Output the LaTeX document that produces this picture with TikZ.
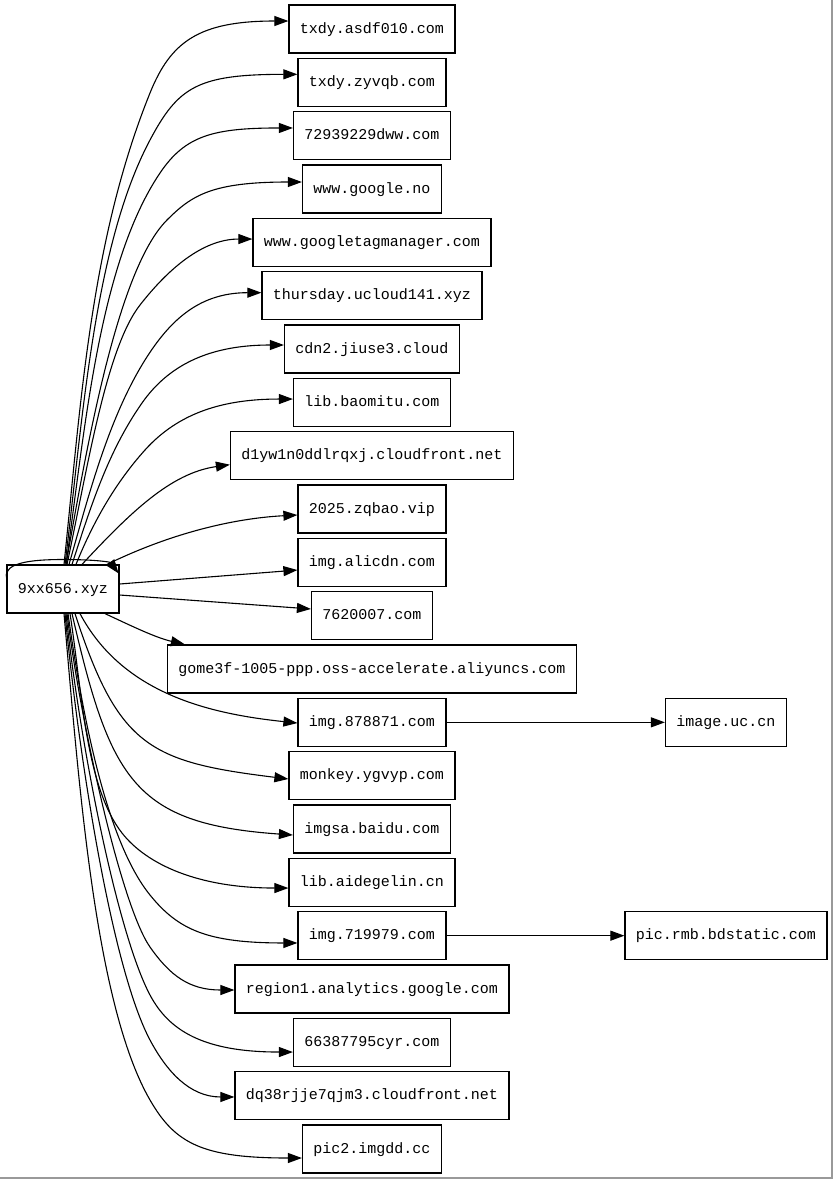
\documentclass[tikz,border=0pt]{standalone}
\usepackage{fontspec}
\newfontfamily\gvfont{Liberation Mono}
\usetikzlibrary{arrows.meta,calc}
\tikzset{
  gvbox/.style={draw, line width=1.2pt, minimum height=48pt, inner xsep=11pt, inner ysep=0pt,
    text height=12pt, text depth=3.4pt, font=\gvfont\fontsize{15}{18}\selectfont},
  conn/.style={draw, line width=1.1pt, -{Triangle[length=14pt,width=10pt]}},
}
% two-piece spline: start, start angle, start length, knee, knee angle, back length, fwd length, end, end length
\newcommand\gvup[9]{\draw[conn] (#1) .. controls +(#2:#3) and +(#5+180:#6) .. (#4) .. controls +(#5:#7) and +(-#9,0) .. (#8);}
\begin{document}
\begin{tikzpicture}[x=1pt,y=-1pt]
\useasboundingbox (0,0) rectangle (833,1179);
\fill[white] (0,0) rectangle (833,1179);
\draw[black!40, line width=1.5pt] (832.2,0) -- (832.2,1178.2) -- (0,1178.2);

\node[gvbox] (src) at (63,589) {9xx656.xyz};
\node[gvbox] (t1) at (372,29) {txdy.asdf010.com};
\node[gvbox] (t2) at (372,82.33) {txdy.zyvqb.com};
\node[gvbox] (t3) at (372,135.67) {72939229dww.com};
\node[gvbox] (t4) at (372,189) {www.google.no};
\node[gvbox] (t5) at (372,242.33) {www.googletagmanager.com};
\node[gvbox] (t6) at (372,295.67) {thursday.ucloud141.xyz};
\node[gvbox] (t7) at (372,349) {cdn2.jiuse3.cloud};
\node[gvbox] (t8) at (372,402.33) {lib.baomitu.com};
\node[gvbox] (t9) at (372,455.67) {d1yw1n0ddlrqxj.cloudfront.net};
\node[gvbox] (t10) at (372,509) {2025.zqbao.vip};
\node[gvbox] (t11) at (372,562.33) {img.alicdn.com};
\node[gvbox] (t12) at (372,615.67) {7620007.com};
\node[gvbox] (t13) at (372,669) {gome3f-1005-ppp.oss-accelerate.aliyuncs.com};
\node[gvbox] (t14) at (372,722.33) {img.878871.com};
\node[gvbox] (t15) at (372,775.67) {monkey.ygvyp.com};
\node[gvbox] (t16) at (372,829) {imgsa.baidu.com};
\node[gvbox] (t17) at (372,882.33) {lib.aidegelin.cn};
\node[gvbox] (t18) at (372,935.67) {img.719979.com};
\node[gvbox] (t19) at (372,989) {region1.analytics.google.com};
\node[gvbox] (t20) at (372,1042.33) {66387795cyr.com};
\node[gvbox] (t21) at (372,1095.67) {dq38rjje7qjm3.cloudfront.net};
\node[gvbox] (t22) at (372,1149) {pic2.imgdd.cc};
\node[gvbox] (r1) at (726,722.33) {image.uc.cn};
\node[gvbox] (r2) at (726,935.67) {pic.rmb.bdstatic.com};

% start points
\coordinate (s1) at ($(src.north)+(1,0)$);
\coordinate (s2) at ($(src.north)+(2,0)$);
\coordinate (s3) at ($(src.north)+(3,0)$);
\coordinate (s4) at ($(src.north)+(3,0)$);
\coordinate (s5) at ($(src.north)+(4,0)$);
\coordinate (s6) at ($(src.north)+(6,0)$);
\coordinate (s7) at ($(src.north)+(9,0)$);
\coordinate (s8) at ($(src.north)+(13,0)$);
\coordinate (s9) at ($(src.north)+(19,0)$);
\coordinate (s10) at ($(src.north)+(44,0)$);
\coordinate (s13) at ($(src.south)+(42,0)$);
\coordinate (s14) at ($(src.south)+(17,0)$);
\coordinate (s15) at ($(src.south)+(12,0)$);
\coordinate (s16) at ($(src.south)+(9,0)$);
\coordinate (s17) at ($(src.south)+(7,0)$);
\coordinate (s18) at ($(src.south)+(5,0)$);
\coordinate (s19) at ($(src.south)+(4,0)$);
\coordinate (s20) at ($(src.south)+(3,0)$);
\coordinate (s21) at ($(src.south)+(2,0)$);
\coordinate (s22) at ($(src.south)+(1,0)$);
% end points
\coordinate (e1) at ($(t1.west)+(0,-8)$);
\coordinate (e2) at ($(t2.west)+(0,-8)$);
\coordinate (e3) at ($(t3.west)+(0,-7.7)$);
\coordinate (e4) at ($(t4.west)+(0,-7)$);
\coordinate (e5) at ($(t5.west)+(0,-3.3)$);
\coordinate (e6) at ($(t6.west)+(0,-3)$);
\coordinate (e7) at ($(t7.west)+(0,-4)$);
\coordinate (e8) at ($(t8.west)+(0,-3.3)$);
\coordinate (e9) at ($(t9.west)+(0,9)$);
\coordinate (e10) at ($(t10.west)+(0,6)$);
\coordinate (e13) at ($(t13.north west)+(18,0)$);
\coordinate (e14) at ($(t14.west)+(0,0.7)$);
\coordinate (e15) at ($(t15.west)+(0,3.3)$);
\coordinate (e16) at ($(t16.west)+(0,6)$);
\coordinate (e17) at ($(t17.west)+(0,5.7)$);
\coordinate (e18) at ($(t18.west)+(0,7.3)$);
\coordinate (e19) at ($(t19.west)+(0,1)$);
\coordinate (e20) at ($(t20.west)+(0,9.7)$);
\coordinate (e21) at ($(t21.west)+(0,1.3)$);
\coordinate (e22) at ($(t22.west)+(0,9)$);
% self loop ends
\coordinate (l1) at ($(src.north west)+(0,13)$);
\coordinate (l2) at ($(src.north east)+(-1,9)$);

% upper edges
\gvup{s1}{-84}{160}{150,93}{-68}{160}{55}{e1}{90}
\gvup{s2}{-83}{145}{150,140}{-62}{120}{60}{e2}{100}
\gvup{s3}{-82}{135}{160,173}{-56}{110}{45}{e3}{80}
\gvup{s4}{-80}{120}{167,220}{-45}{70}{35}{e4}{90}
\gvup{s5}{-78}{100}{140,305}{-52}{55}{45}{e5}{50}
\gvup{s6}{-74}{70}{145,360}{-58}{70}{50}{e6}{60}
\gvup{s7}{-72}{60}{142,403}{-55}{60}{50}{e7}{70}
\gvup{s8}{-68}{45}{145,450}{-48}{45}{50}{e8}{70}
\draw[conn] (s9) .. controls +(-47:70) and +(172:60) .. (e9);
\draw[conn] (s10) .. controls +(-26:70) and +(177:65) .. (e10);
% straight edges
\draw[conn] ($(src.east)+(0,-5)$) -- ($(t11.west)+(0,7.7)$);
\draw[conn] ($(src.east)+(0,6)$) -- ($(t12.west)+(0,-6.7)$);
% lower edges
\draw[conn] (s13) .. controls +(25:30) and +(193:30) .. (e13);
\draw[conn] (s14) .. controls +(62:90) and +(186:90) .. (e14);
\draw[conn] (s15) .. controls +(72:140) and +(187:140) .. (e15);
\draw[conn] (s16) .. controls +(77:170) and +(184:160) .. (e16);
\gvup{s17}{81}{75}{122,833}{52}{60}{40}{e17}{90}
\gvup{s18}{82}{100}{150,895}{51}{70}{45}{e18}{90}
\gvup{s19}{83}{110}{150,947}{55}{50}{35}{e19}{45}
\gvup{s20}{84}{130}{150,995}{62}{70}{40}{e20}{90}
\gvup{s21}{84.5}{150}{150,1040}{62}{80}{35}{e21}{45}
\gvup{s22}{85}{170}{150,1100}{60}{110}{50}{e22}{100}

\draw[conn] (t14) -- (r1);
\draw[conn] (t18) -- (r2);
% self loop
\draw[conn] (l1) .. controls (4,563) and (30,559.5) .. (63,559.5) .. controls (95,559.5) and (110,562) .. (l2);
\end{tikzpicture}
\end{document}
